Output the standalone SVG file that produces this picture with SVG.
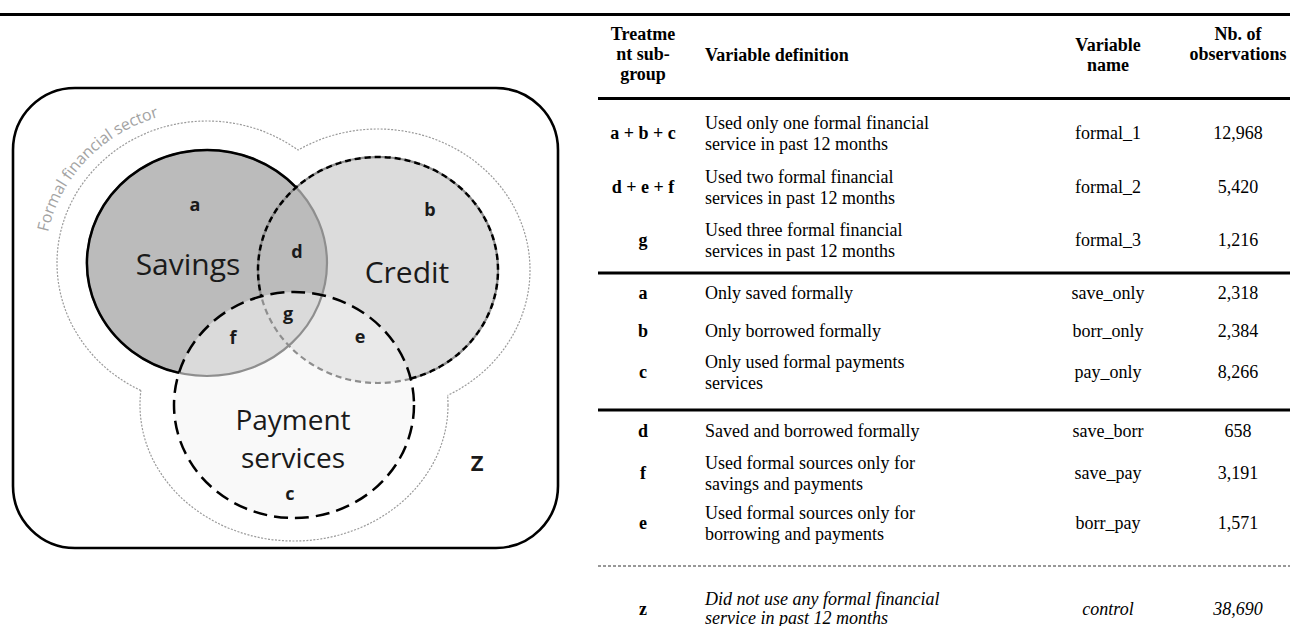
<svg xmlns="http://www.w3.org/2000/svg" width="1290" height="626" viewBox="0 0 1290 626">
<style>
.t{font-family:"Liberation Serif","Times New Roman",serif;font-size:18px;fill:#000}
.b{font-weight:bold}
.i{font-style:italic}
.m{text-anchor:middle}
.v{font-family:"Open Sans","Noto Sans",sans-serif;fill:#1a1a1a;text-anchor:middle}
.lbl{font-size:18px;font-weight:bold}
.big{font-size:30px}
.rule{stroke:#000;stroke-width:3.2}
.outer{fill:none;stroke:#9a9a9a;stroke-width:1.2;stroke-dasharray:2 1.5}
</style>
<defs>
<mask id="mS"><rect x="0" y="0" width="600" height="626" fill="#fff"/><ellipse cx="378" cy="270" rx="152" ry="141" fill="#000"/><ellipse cx="294" cy="405" rx="154" ry="136" fill="#000"/></mask>
<mask id="mC"><rect x="0" y="0" width="600" height="626" fill="#fff"/><ellipse cx="207" cy="263" rx="150" ry="142" fill="#000"/><ellipse cx="294" cy="405" rx="154" ry="136" fill="#000"/></mask>
<mask id="mP"><rect x="0" y="0" width="600" height="626" fill="#fff"/><ellipse cx="207" cy="263" rx="150" ry="142" fill="#000"/><ellipse cx="378" cy="270" rx="152" ry="141" fill="#000"/></mask>
<path id="arcText" d="M46.6,240 A162,153 0 0 1 207,110"/>
</defs>
<rect width="1290" height="626" fill="#fff"/>
<line class="rule" x1="0" y1="14.5" x2="1290" y2="14.5"/>

<g id="venn">
<rect id="universe" x="13" y="88" width="545" height="460" rx="62" ry="62" fill="none" stroke="#000" stroke-width="2.6"/>
<g id="formal-sector">
<ellipse class="outer" cx="207" cy="263" rx="150" ry="142" mask="url(#mS)"/>
<ellipse class="outer" cx="378" cy="270" rx="152" ry="141" mask="url(#mC)"/>
<ellipse class="outer" cx="294" cy="405" rx="154" ry="136" mask="url(#mP)"/>
<text font-family="'Open Sans','Noto Sans',sans-serif" font-size="16" fill="#a3a3a3"><textPath href="#arcText" startOffset="8" textLength="168" lengthAdjust="spacing">Formal financial sector</textPath></text>
</g>
<g id="credit"><ellipse cx="378" cy="270" rx="120" ry="113" fill="#dcdcdc"/></g>
<g id="savings"><ellipse cx="207" cy="263" rx="120" ry="113" fill="#bbbbbb"/></g>
<g id="payment"><ellipse cx="294" cy="405" rx="120" ry="113" fill="#f4f4f4" fill-opacity="0.55"/></g>
<g id="outlines" fill="none">
<ellipse cx="378" cy="270" rx="120" ry="113" stroke="#8e8e8e" stroke-width="2.2" stroke-dasharray="6 4"/>
<ellipse cx="207" cy="263" rx="120" ry="113" stroke="#8e8e8e" stroke-width="2.2"/>
<path d="M296.1,187.4 A120,113 0 1 0 179,372.9" stroke="#000" stroke-width="2.5"/>
<path d="M410.7,378.7 A120,113 0 1 0 261.3,296.3" stroke="#000" stroke-width="2.5" stroke-dasharray="6 4"/>
<ellipse cx="294" cy="405" rx="120" ry="113" stroke="#000" stroke-width="2.5" stroke-dasharray="14 7"/>
</g>
<g id="venn-labels">
<text class="v big" x="188" y="275">Savings</text>
<text class="v big" x="407" y="283">Credit</text>
<text class="v" font-size="28" x="293" y="430">Payment</text>
<text class="v" font-size="28" x="293" y="468">services</text>
<text class="v lbl" x="195" y="211">a</text>
<text class="v lbl" x="430" y="216">b</text>
<text class="v lbl" x="290" y="500">c</text>
<text class="v lbl" x="297" y="258">d</text>
<text class="v lbl" x="360" y="343">e</text>
<text class="v lbl" x="233" y="344">f</text>
<text class="v lbl" x="288" y="320">g</text>
<text class="v" font-size="22" font-weight="bold" x="477" y="471">Z</text>
</g>
</g>

<g id="table">
<g id="rules">
<line class="rule" x1="598" y1="98.5" x2="1290" y2="98.5"/>
<line class="rule" x1="598" y1="273" x2="1290" y2="273"/>
<line class="rule" x1="598" y1="410" x2="1290" y2="410"/>
<line x1="598" y1="566" x2="1290" y2="566" stroke="#333" stroke-width="1" stroke-dasharray="3 2"/>
</g>
<g id="header">
<text class="t b m" x="643" y="40">Treatme</text>
<text class="t b m" x="643" y="60">nt sub-</text>
<text class="t b m" x="643" y="80">group</text>
<text class="t b" x="705" y="61">Variable definition</text>
<text class="t b m" x="1108" y="51">Variable</text>
<text class="t b m" x="1108" y="71">name</text>
<text class="t b m" x="1238" y="40">Nb. of</text>
<text class="t b m" x="1238" y="60">observations</text>
</g>
<g id="row-abc">
<text class="t b m" x="643" y="139">a + b + c</text>
<text class="t" x="705" y="129">Used only one formal financial</text>
<text class="t" x="705" y="149.5">service in past 12 months</text>
<text class="t m" x="1108" y="139">formal_1</text>
<text class="t m" x="1238" y="139">12,968</text>
</g>
<g id="row-def">
<text class="t b m" x="643" y="193">d + e + f</text>
<text class="t" x="705" y="183">Used two formal financial</text>
<text class="t" x="705" y="203.5">services in past 12 months</text>
<text class="t m" x="1108" y="193">formal_2</text>
<text class="t m" x="1238" y="193">5,420</text>
</g>
<g id="row-g">
<text class="t b m" x="643" y="246">g</text>
<text class="t" x="705" y="236">Used three formal financial</text>
<text class="t" x="705" y="256.5">services in past 12 months</text>
<text class="t m" x="1108" y="246">formal_3</text>
<text class="t m" x="1238" y="246">1,216</text>
</g>
<g id="row-a">
<text class="t b m" x="643" y="299">a</text>
<text class="t" x="705" y="299">Only saved formally</text>
<text class="t m" x="1108" y="299">save_only</text>
<text class="t m" x="1238" y="299">2,318</text>
</g>
<g id="row-b">
<text class="t b m" x="643" y="337">b</text>
<text class="t" x="705" y="337">Only borrowed formally</text>
<text class="t m" x="1108" y="337">borr_only</text>
<text class="t m" x="1238" y="337">2,384</text>
</g>
<g id="row-c">
<text class="t b m" x="643" y="378">c</text>
<text class="t" x="705" y="368">Only used formal payments</text>
<text class="t" x="705" y="388.5">services</text>
<text class="t m" x="1108" y="378">pay_only</text>
<text class="t m" x="1238" y="378">8,266</text>
</g>
<g id="row-d">
<text class="t b m" x="643" y="437">d</text>
<text class="t" x="705" y="437">Saved and borrowed formally</text>
<text class="t m" x="1108" y="437">save_borr</text>
<text class="t m" x="1238" y="437">658</text>
</g>
<g id="row-f">
<text class="t b m" x="643" y="479">f</text>
<text class="t" x="705" y="469">Used formal sources only for</text>
<text class="t" x="705" y="489.5">savings and payments</text>
<text class="t m" x="1108" y="479">save_pay</text>
<text class="t m" x="1238" y="479">3,191</text>
</g>
<g id="row-e">
<text class="t b m" x="643" y="529">e</text>
<text class="t" x="705" y="519">Used formal sources only for</text>
<text class="t" x="705" y="539.5">borrowing and payments</text>
<text class="t m" x="1108" y="529">borr_pay</text>
<text class="t m" x="1238" y="529">1,571</text>
</g>
<g id="row-z">
<text class="t b m" x="643" y="615">z</text>
<text class="t i" x="705" y="605">Did not use any formal financial</text>
<text class="t i" x="705" y="624">service in past 12 months</text>
<text class="t i m" x="1108" y="615">control</text>
<text class="t i m" x="1238" y="615">38,690</text>
</g>
</g>
</svg>
